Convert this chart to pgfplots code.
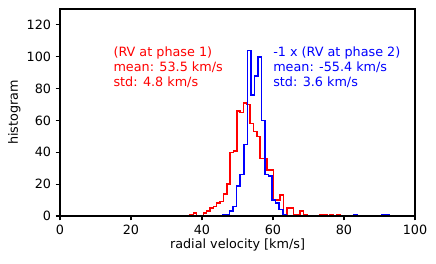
\documentclass[border=0pt]{standalone}
\usepackage{fontspec}
\setmainfont{DejaVu Sans}
\usepackage{pgfplots}
\pgfplotsset{compat=1.18}

\begin{document}
\fontsize{9.2pt}{11pt}\selectfont
\begin{tikzpicture}
\useasboundingbox (0,0) rectangle (313.92pt,190.08pt);
\begin{axis}[
    at={(43.2pt,34.56pt)}, anchor=south west,
    scale only axis,
    width=255.6pt, height=149.04pt,
    xmin=0, xmax=100,
    ymin=0, ymax=130,
    xtick={0,20,...,100},
    ytick={0,20,...,120},
    xtick pos=left, ytick pos=left,
    tick align=outside,
    major tick length=3.2pt,
    tick style={black, line width=0.75pt},
    axis line style={black, line width=0.75pt},
    axis on top,
    tick label style={font=\fontsize{9.2pt}{11pt}\selectfont},
    /pgf/number format/assume math mode=true,
    xlabel={radial velocity [km/s]},
    ylabel={histogram},
    xlabel style={at={(axis description cs:0.5,-0.1377)}, anchor=center},
    ylabel style={at={(axis description cs:-0.1287,0.5)}, anchor=center, rotate=0},
    label style={font=\fontsize{9.2pt}{11pt}\selectfont},
]

% phase 1 (red)
\addplot[const plot, red, line width=1.15pt] coordinates {
    (36.62,0) (36.62,1) (37.56,2) (38.50,0) (39.44,0) (40.38,2) (41.32,3)
    (42.26,5) (43.20,6) (44.14,8) (45.08,9) (46.02,14) (46.96,20) (47.90,40)
    (48.84,41) (49.78,66) (50.72,65) (51.66,71) (52.60,70) (53.54,58)
    (54.48,53) (55.42,50) (56.36,36) (57.30,36) (58.24,29) (59.18,29)
    (60.12,10) (61.06,10) (62.00,13) (62.94,0) (63.88,5) (64.82,5)
    (65.76,1) (66.70,1) (67.64,3) (68.58,1) (69.52,0) (73.28,1) (74.22,1)
    (75.16,0) (76.10,1) (77.04,0) (77.98,1) (78.92,1) (78.92,0)
};

% phase 2, sign flipped (blue)
\addplot[const plot, blue, line width=1.15pt] coordinates {
    (45.76,0) (45.76,1) (46.76,1) (47.76,3) (48.76,6) (49.76,19) (50.76,26)
    (51.76,45) (52.76,104) (53.76,76) (54.76,88) (55.76,100) (56.76,60)
    (57.76,26) (58.76,25) (59.76,10) (60.76,8) (61.76,4) (62.76,1)
    (63.76,0) (82.76,1) (83.76,0) (90.76,1) (91.76,1) (92.76,1) (92.76,0)
};

\node[anchor=base west, inner sep=0, text=red] at (axis cs:15,100) {(RV at phase 1)};
\node[anchor=base west, inner sep=0, text=red] at (axis cs:15,90.6) {mean: 53.5 km/s};
\node[anchor=base west, inner sep=0, text=red] at (axis cs:15,81.2) {std: 4.8 km/s};
\node[anchor=base west, inner sep=0, text=blue] at (axis cs:60,100) {-1 x (RV at phase 2)};
\node[anchor=base west, inner sep=0, text=blue] at (axis cs:60,90.6) {mean: -55.4 km/s};
\node[anchor=base west, inner sep=0, text=blue] at (axis cs:60,81.2) {std: 3.6 km/s};
\end{axis}
\end{tikzpicture}
\end{document}
